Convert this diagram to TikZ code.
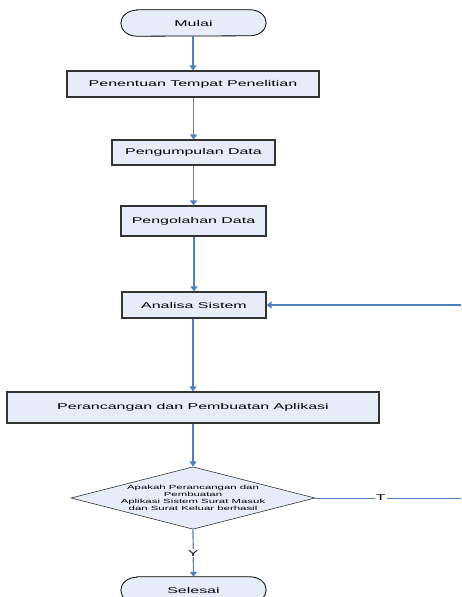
\documentclass[tikz,border=0pt]{standalone}
\usepackage{fontspec}
\setmainfont{Liberation Sans}[FakeStretch=1.9]
\usetikzlibrary{arrows.meta,shapes.geometric}
\definecolor{lineblue}{HTML}{4F81BD}
\definecolor{boxfill}{HTML}{E6ECF8}
\definecolor{boxline}{HTML}{333333}
\tikzset{
  procbox/.style={draw=boxline,line width=1.1pt,fill=boxfill,minimum height=#1,inner sep=0pt,font=\fontsize{8.4}{10}\selectfont},
  termbox/.style={rectangle,minimum width=145pt,minimum height=26pt,inner sep=0pt,font=\fontsize{8.4}{10}\selectfont},
  termshape/.style={draw=black,line width=0.8pt,fill=boxfill},
  decbox/.style={draw=boxline,line width=0.6pt,fill=boxfill,diamond,minimum width=244pt,minimum height=62pt,inner sep=0pt,aspect=3.9,font=\fontsize{6}{7}\selectfont,align=center},
  flow/.style={draw=lineblue,line width=1.2pt,-{Triangle[width=7pt,length=5pt]}},
  plain/.style={draw=lineblue,line width=0.8pt},
  lbl/.style={fill=white,inner sep=1pt,font=\fontsize{8.4}{10}\selectfont}
}
\newcommand{\termpath}[1]{%
  \path[termshape] ([xshift=16pt]#1.north west) -- ([xshift=-16pt]#1.north east)
    arc[start angle=90,end angle=-90,x radius=16pt,y radius=13pt]
    -- ([xshift=16pt]#1.south west)
    arc[start angle=270,end angle=90,x radius=16pt,y radius=13pt] -- cycle;}
\begin{document}
\begin{tikzpicture}[x=1pt,y=-1pt]
\useasboundingbox (0,0) rectangle (461,597);
\node[termbox] (mulai) at (193.5,23) {\phantom{Mulai}};
\termpath{mulai}
\node at (mulai) [font=\fontsize{8.4}{10}\selectfont] {Mulai};
\node[procbox=26pt,minimum width=252pt] (pen) at (193,84) {Penentuan Tempat Penelitian};
\node[procbox=25pt,minimum width=163pt] (pgm) at (193.5,152.5) {Pengumpulan Data};
\node[procbox=30pt,minimum width=145pt] (pgo) at (193.5,221) {Pengolahan Data};
\node[procbox=26pt,minimum width=144pt] (ana) at (194,305) {Analisa Sistem};
\node[procbox=31pt,minimum width=372pt] (per) at (193,407.5) {Perancangan dan Pembuatan Aplikasi};
\node[decbox] (dec) at (193,498) {Apakah Perancangan dan\\Pembuatan\\Aplikasi Sistem Surat Masuk\\dan Surat Keluar berhasil};
\node[termbox] (sel) at (193.5,590) {\phantom{Selesai}};
\termpath{sel}
\node at (sel) [font=\fontsize{8.4}{10}\selectfont] {Selesai};
\coordinate (r1) at (461,305);
\coordinate (r2) at (461,498);
\draw[flow] (mulai.south -| pen.north) -- (pen.north);
\draw[flow] (pen.south -| pgm.north) -- (pgm.north);
\draw[flow] (pgm.south -| pgo.north) -- (pgo.north);
\draw[flow] (pgo.south -| ana.north) -- (ana.north);
\draw[flow] (ana.south -| per.north) -- (per.north);
\draw[flow] (per.south -| dec.north) -- (dec.north);
\draw[flow] (dec.south) -- node[lbl] {Y} (sel.north);
\draw[plain] (dec.east) -- node[lbl,pos=0.45] {T} (r2);
\draw[flow] (r1) -- (ana.east);
\end{tikzpicture}
\end{document}
